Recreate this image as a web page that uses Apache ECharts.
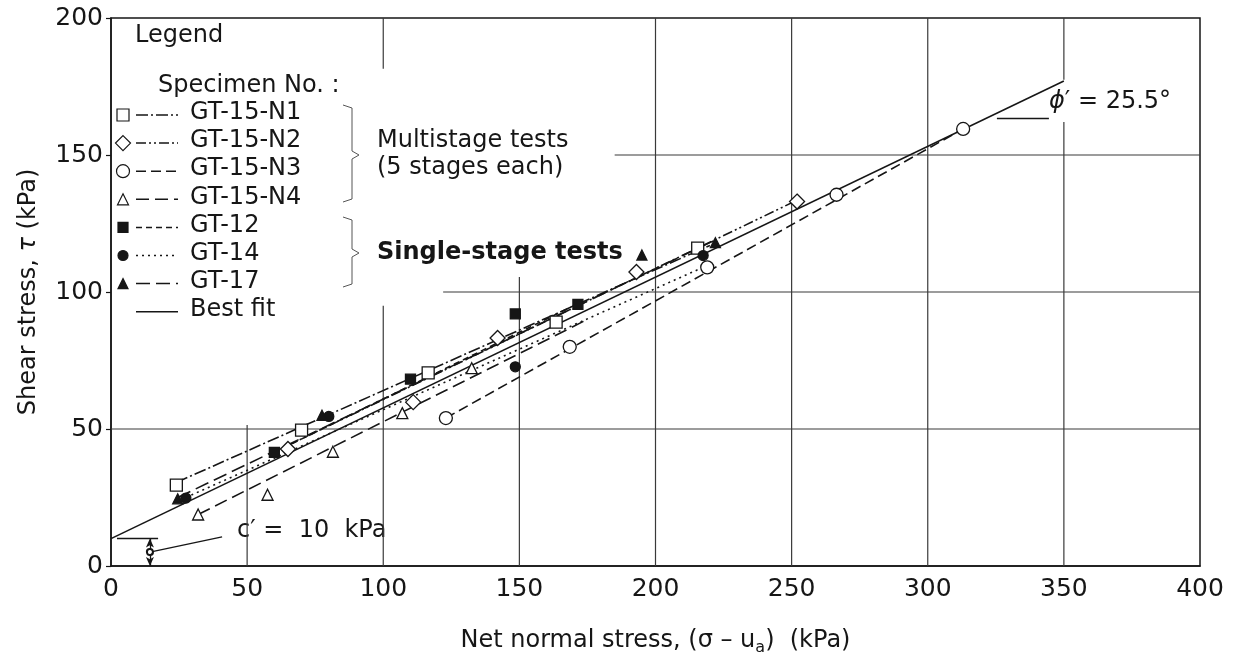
<!DOCTYPE html>
<html>
<head>
<meta charset="utf-8">
<script src="https://cdn.jsdelivr.net/npm/echarts@6/dist/echarts.min.js"></script>
<style>
  html, body { margin: 0; padding: 0; background: #fff; }
  #chart { width: 1239px; height: 666px; }
</style>
</head>
<body>
<div id="chart"></div>
<script>
// Axis ticks (kPa)
const xTicks = [0, 50, 100, 150, 200, 250, 300, 350, 400];
const yTicks = [0, 50, 100, 150, 200];

// Specimen names
const specimenNames = ['GT-15-N1', 'GT-15-N2', 'GT-15-N3', 'GT-15-N4', 'GT-12', 'GT-14', 'GT-17'];

// Measured failure points: [net normal stress, shear stress] (kPa)
const gt15n1 = [[24, 29.5], [70, 49.6], [116.5, 70.5], [163.5, 89], [215.5, 116]];
const gt15n2 = [[65, 42.7], [111, 59.8], [142, 83.2], [193, 107.3], [252, 133]];
const gt15n3 = [[123, 54], [168.5, 80], [219, 109], [266.5, 135.5], [313, 159.5]];
const gt15n4 = [[32, 18.8], [57.5, 26], [81.5, 41.7], [107, 55.8], [132.5, 72.2]];
const gt12 = [[60, 41.5], [110, 68.2], [148.5, 92], [171.5, 95.5]];
const gt14 = [[27.5, 24.8], [80, 54.6], [148.5, 72.7], [217.5, 113.3]];
const gt17 = [[24.5, 24.5], [77.5, 55], [195, 113.5], [222, 118]];

// Failure envelope of each specimen, end points (kPa)
const fitN1 = [[24, 30.5], [220, 117]];
const fitN2 = [[65, 44], [252, 133.5]];
const fitN3 = [[123, 54], [313, 159.5]];
const fitN4 = [[32, 18.8], [175, 90]];
const fit12 = [[60, 41.5], [172, 96]];
const fit14 = [[27.5, 25], [217.5, 109]];
const fit17 = [[24.5, 25], [222, 119]];

// Best-fit envelope: c' = 10 kPa, phi' = 25.5 deg
const bestFit = [[0, 10], [350, 177]];

const FONT = 'DejaVu Sans';
const INK = '#161616';
const GRID_INK = '#3a3a3a';

const specimens = [
  { name: specimenNames[0], pts: gt15n1, fit: fitN1, symbol: 'rect', size: 12, fill: '#fff', dash: [12, 3, 2, 3] },
  { name: specimenNames[1], pts: gt15n2, fit: fitN2, symbol: 'diamond', size: 15, fill: '#fff', dash: [10, 3, 2, 3, 2, 3] },
  { name: specimenNames[2], pts: gt15n3, fit: fitN3, symbol: 'circle', size: 13, fill: '#fff', dash: [10, 5] },
  { name: specimenNames[3], pts: gt15n4, fit: fitN4, symbol: 'triangle', size: 11, fill: '#fff', dash: [13, 6] },
  { name: specimenNames[4], pts: gt12, fit: fit12, symbol: 'rect', size: 10, fill: INK, dash: [6, 4] },
  { name: specimenNames[5], pts: gt14, fit: fit14, symbol: 'circle', size: 10, fill: INK, dash: [2, 4] },
  { name: specimenNames[6], pts: gt17, fit: fit17, symbol: 'triangle', size: 10, fill: INK, dash: [14, 6] }
];

// Grid lines drawn as segments so they stop short of the legend block
function segmentItem(params, api) {
  const a = api.coord([api.value(0), api.value(1)]);
  const b = api.coord([api.value(2), api.value(3)]);
  return {
    type: 'line',
    shape: { x1: a[0], y1: a[1], x2: b[0], y2: b[1] },
    style: { stroke: GRID_INK, lineWidth: 1.2 },
    silent: true
  };
}

const series = [];
series.push({
  type: 'custom',
  renderItem: segmentItem,
  encode: { x: [0, 2], y: [1, 3] },
  z: 1,
  silent: true,
  data: [
    [50, 0, 50, 51.5],
    [100, 0, 100, 95], [100, 181.5, 100, 200],
    [150, 0, 150, 105.5],
    [200, 0, 200, 200], [250, 0, 250, 200], [300, 0, 300, 200],
    [350, 0, 350, 162], [350, 177.5, 350, 200],
    [0, 50, 400, 50],
    [122, 100, 400, 100],
    [185, 150, 400, 150]
  ]
});

specimens.forEach(function (s) {
  series.push({
    name: s.name,
    type: 'line',
    data: s.fit,
    symbol: 'none',
    z: 3,
    lineStyle: { color: INK, width: 1.6, type: s.dash },
    silent: true
  });
});

series.push({
  name: 'Best fit',
  type: 'line',
  data: bestFit,
  symbol: 'none',
  z: 3,
  lineStyle: { color: INK, width: 1.6, type: 'solid' },
  silent: true,
  markLine: {
    silent: true,
    animation: false,
    symbol: 'none',
    label: { show: false },
    lineStyle: { color: INK, width: 1.3, type: 'solid' },
    data: [
      [{ coord: [2.2, 10] }, { coord: [17.3, 10] }],
      [{ coord: [14.3, 0], symbol: 'arrow', symbolSize: [6, 9] }, { coord: [14.3, 10], symbol: 'arrow', symbolSize: [6, 9] }],
      [{ coord: [14.3, 5.1], symbol: 'emptyCircle', symbolSize: 6 }, { coord: [40.8, 10.6] }],
      [{ coord: [325.4, 163.5] }, { coord: [344.5, 163.5] }]
    ]
  }
});

specimens.forEach(function (s) {
  series.push({
    name: s.name,
    type: 'scatter',
    data: s.pts,
    symbol: s.symbol,
    symbolSize: s.size,
    z: 6,
    itemStyle: { color: s.fill, borderColor: INK, borderWidth: 1.3, opacity: 1 },
    silent: true
  });
});

// Legend block built from graphic elements
const legendElements = [];
const rowTop = 115, rowStep = 28.1;
const txt = function (left, cy, text, extra) {
  return Object.assign({
    type: 'text', left: left, top: cy - 14,
    style: { text: text, font: '24px "' + FONT + '"', fill: INK, textVerticalAlign: 'top' }
  }, extra || {});
};
legendElements.push(txt(135, 38, 'Legend'));
legendElements.push(txt(158, 88, 'Specimen No. :'));

function markerShape(s, cx, cy) {
  const style = { fill: s.fill, stroke: INK, lineWidth: 1.2 };
  const h = s.size / 2;
  if (s.symbol === 'rect') return { type: 'rect', shape: { x: cx - h, y: cy - h, width: s.size, height: s.size }, style: style };
  if (s.symbol === 'circle') return { type: 'circle', shape: { cx: cx, cy: cy, r: h }, style: style };
  if (s.symbol === 'diamond') return { type: 'polygon', shape: { points: [[cx, cy - h], [cx + h, cy], [cx, cy + h], [cx - h, cy]] }, style: style };
  return { type: 'polygon', shape: { points: [[cx, cy - h], [cx + h, cy + h], [cx - h, cy + h]] }, style: style };
}

specimens.forEach(function (s, i) {
  const cy = rowTop + i * rowStep;
  legendElements.push(markerShape(s, 123, cy));
  legendElements.push({ type: 'line', shape: { x1: 136, y1: cy, x2: 178, y2: cy }, style: { stroke: INK, lineWidth: 1.5, lineDash: s.dash } });
  legendElements.push(txt(190, cy, s.name));
});
const bestRow = rowTop + 7 * rowStep;
legendElements.push({ type: 'line', shape: { x1: 136, y1: bestRow, x2: 178, y2: bestRow }, style: { stroke: INK, lineWidth: 1.5 } });
legendElements.push(txt(190, bestRow, 'Best fit'));

function brace(top, tip, bottom) {
  return {
    type: 'polyline',
    shape: { points: [[343, top], [352, top + 3], [352, tip - 4], [359, tip], [352, tip + 4], [352, bottom - 3], [343, bottom]] },
    style: { stroke: '#555', lineWidth: 1, fill: null }
  };
}
legendElements.push(brace(105, 155, 202));
legendElements.push(brace(217, 253, 287));
legendElements.push(txt(377, 143, 'Multistage tests'));
legendElements.push(txt(377, 170, '(5 stages each)'));
legendElements.push(txt(377, 255, 'Single-stage tests', { style: { text: 'Single-stage tests', font: 'bold 24px "' + FONT + '"', fill: INK, textVerticalAlign: 'top' } }));

// Envelope annotations
legendElements.push({
  type: 'text', left: 237, top: 519,
  style: { text: 'c\u2032 =  10  kPa', font: '24px "' + FONT + '"', fill: INK }
});
legendElements.push({
  type: 'text', left: 1049, top: 90,
  style: {
    text: '{i|\u03d5}{t|\u2032 = 25.5\u00b0}',
    rich: {
      i: { font: 'italic 24px "' + FONT + '"', fill: INK },
      t: { font: '24px "' + FONT + '"', fill: INK }
    }
  }
});

const option = {
  animation: false,
  backgroundColor: '#fff',
  grid: { left: 111, right: 39, top: 18, bottom: 100, show: true, borderColor: INK, borderWidth: 1.5, backgroundColor: 'transparent' },
  xAxis: {
    type: 'value', min: xTicks[0], max: xTicks[xTicks.length - 1], interval: 50,
    splitLine: { show: false },
    axisLine: { lineStyle: { color: INK, width: 1.5 } },
    axisTick: { show: false },
    axisLabel: { color: INK, fontSize: 25, fontFamily: FONT, margin: 11 },
    name: '{t|Net normal stress, (\u03c3 \u2013 u}{s|a}{t|)  (kPa)}',
    nameLocation: 'middle', nameGap: 60,
    nameTextStyle: {
      rich: {
        t: { fontSize: 24, fontFamily: FONT, color: INK },
        s: { fontSize: 16, fontFamily: FONT, color: INK, padding: [14, 0, 0, 0] }
      }
    }
  },
  yAxis: {
    type: 'value', min: yTicks[0], max: yTicks[yTicks.length - 1], interval: 50,
    splitLine: { show: false },
    axisLine: { lineStyle: { color: INK, width: 1.5 } },
    axisTick: { show: true, inside: false, length: 5, lineStyle: { color: INK, width: 1.2 } },
    axisLabel: { color: INK, fontSize: 25, fontFamily: FONT, margin: 8 },
    name: '{t|Shear stress, }{i|\u03c4}{t| (kPa)}',
    nameLocation: 'middle', nameGap: 70, nameRotate: 90,
    nameTextStyle: {
      rich: {
        t: { fontSize: 24, fontFamily: FONT, color: INK },
        i: { fontSize: 24, fontFamily: FONT, color: INK, fontStyle: 'italic' }
      }
    }
  },
  graphic: { elements: legendElements },
  series: series
};

const chart = echarts.init(document.getElementById('chart'));
chart.setOption(option);
</script>
</body>
</html>
